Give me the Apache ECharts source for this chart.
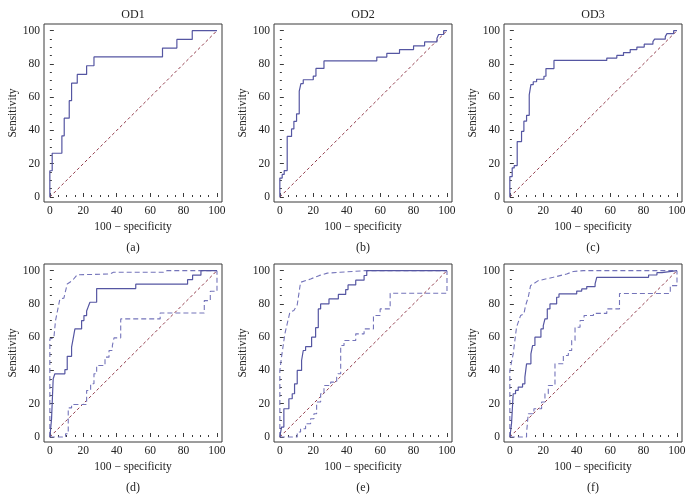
<!DOCTYPE html>
<html>
<head>
<meta charset="utf-8">
<script src="https://cdn.jsdelivr.net/npm/echarts@6/dist/echarts.min.js"></script>
<style>html,body{margin:0;padding:0;background:#fff}#c{width:691px;height:500px}</style>
</head>
<body>
<div id="c"></div>
<script>
// ---------- data ----------
const panelTitles = ['OD1', 'OD2', 'OD3', '', '', ''];
const panelLetters = ['(a)', '(b)', '(c)', '(d)', '(e)', '(f)'];
const xAxisTitle = '100 \u2212 specificity';
const yAxisTitle = 'Sensitivity';
const majorTicks = [0, 20, 40, 60, 80, 100];
const minorTicks = [5, 10, 15, 25, 30, 35, 45, 50, 55, 65, 70, 75, 85, 90, 95];
const diagonal = [[0, 0], [100, 100]];

// ROC curves (100-specificity, sensitivity) as step corner points
const rocA = [[0,0],[0,15.8],[1.4,26.3],[7.2,36.8],[8.6,47.4],[11.6,57.9],[13,68.4],[16.4,73.7],[22,78.9],[26.4,84.2],[67.4,89.5],[76,94.7],[85.2,100],[100,100]];
const rocB = [[0,0],[0,11.4],[1.4,13.6],[2.6,15.9],[4.4,36.4],[7,40.9],[8.4,45.5],[10,50],[11.6,63.6],[12.6,68.2],[14,70.5],[20,72.7],[21.6,77.3],[26.4,81.8],[58,84.1],[64,86.4],[71.6,88.6],[80,90.9],[86.6,93.2],[94,95.5],[95,97.7],[98,100],[100,100]];
const rocC = [[0,0],[0,12.3],[1.4,17.5],[2.6,18.9],[4.4,33.3],[7,39.5],[8.4,45.6],[10,49.1],[11.6,61.4],[12.6,67.5],[14,69.3],[16,70.8],[20.4,72.6],[21.6,77.2],[26.4,82.1],[58,83.5],[64,85.1],[68,86.8],[72,88.6],[76,90.1],[80.4,91.9],[85.6,93.4],[86.6,94.9],[93,96.4],[94,98.2],[98,100],[100,100]];
const rocD = [[0,0],[1,0],[1,10.5],[2,35],[3,38],[9,40.5],[10.4,48.5],[13,54],[14,59.5],[15,65],[19,70],[20.4,73],[22,75.7],[23,78.4],[24,81],[28,89.2],[51.4,91.9],[82.4,94.6],[85.4,97.3],[90.4,100],[100,100]];
const upperD = [[0,0],[0,59],[2.4,59.5],[3.4,70],[6,83],[8.4,83.5],[10.4,92],[13.4,94],[16.4,97.5],[36,98],[38,99],[68,99],[70,100],[100,100]];
const lowerD = [[0,0],[9.4,2],[11,17.5],[13,19.5],[22,28],[24.4,32],[26.4,38],[28,43],[33,48],[35.4,52],[37.4,55],[38.4,59.6],[42.4,71],[66,74.5],[92.4,82],[96,87.6],[100,100]];
const rocE = [[0,0],[1,6],[2.4,17],[5.4,23],[7.4,26],[8.8,32],[10.4,40],[13,46],[14,52],[15.4,54.3],[19,60],[21.4,65.7],[23,77],[24.4,80],[29.4,83],[35,85.7],[39.4,88.6],[40.8,91.4],[45.4,94.3],[50.4,97.1],[52,100],[100,100]];
const upperE = [[0,0],[0,40],[1,48],[3,62],[6,75],[8.4,76],[10.4,79.5],[12.4,93],[18.4,95],[23.4,97],[28.4,98.5],[36,99],[51,100],[100,100]];
const lowerE = [[0,0],[10.4,3],[12.4,5],[15.4,8],[18.4,11],[20.4,14],[22,21],[24.4,26],[26.4,31],[30.4,33],[34,36],[34.8,38],[36.4,55],[38.4,58],[45.4,62],[50.4,65],[56,73],[60,77],[66,86.4],[100,86.4],[100,100]];
const rocF = [[0,0],[1,8],[2,26],[3.4,28],[5,30],[7.6,32],[9,36],[10,44],[12.6,50],[13.6,55],[15,60],[18.6,65],[20,67],[21,71],[22.4,77],[24,80],[28,84],[29.4,86],[40,87.7],[43,89],[46,90.4],[51,92],[52,96],[83,97.4],[88,98.8],[91,100],[100,100]];
const upperF = [[0,0],[0,40],[2,50],[4,66],[6.4,73],[8.4,74],[9.4,79],[11,84],[12.4,91],[17,94],[26,96],[34,98],[38,99.5],[44,100],[100,100]];
const lowerF = [[0,0],[10,2.4],[11,14],[14.4,17],[19,21],[21,26],[23,31],[27,44],[32,49],[35,52],[37,58],[39,66],[42,70],[44.4,73],[50,74.3],[58,77],[65.6,86.3],[92,86.3],[96,91],[100,95],[100,100]];

const rocCurves = [rocA, rocB, rocC, rocD, rocE, rocF];
const upperCurves = [null, null, null, upperD, upperE, upperF];
const lowerCurves = [null, null, null, lowerD, lowerE, lowerF];

// ---------- layout ----------
const gridLefts = [44, 274, 504];
const gridTops = [24, 264];
const gw = 178, gh = 178;
const FONT = '"Liberation Serif", "DejaVu Serif", serif';
const frameColor = '#3a3a3a';
const rocColor = '#5556a2';
const ciColor = '#7474ba';
const diagColor = '#923c4c';
const STEP = 'end';

const grids = [], xAxes = [], yAxes = [], series = [], graphics = [];
for (let i = 0; i < 6; i++) {
  const col = i % 3, row = Math.floor(i / 3);
  grids.push({left: gridLefts[col], top: gridTops[row], width: gw, height: gh,
    show: true, borderColor: frameColor, borderWidth: 1, containLabel: false});
}
for (let i = 0; i < 6; i++) {
  xAxes.push({type: 'value', gridIndex: i, min: -3.5, max: 103, position: 'bottom',
    name: xAxisTitle, nameLocation: 'middle', nameGap: 19,
    nameTextStyle: {fontFamily: FONT, fontSize: 11.5, color: '#222'},
    axisLine: {show: false}, splitLine: {show: false},
    axisTick: {inside: true, length: 4, lineStyle: {color: frameColor}, customValues: majorTicks},
    axisLabel: {customValues: majorTicks, margin: 3, fontFamily: FONT, fontSize: 11.5, color: '#222'}});
  yAxes.push({type: 'value', gridIndex: i, min: -3, max: 104, position: 'left',
    name: yAxisTitle, nameLocation: 'middle', nameGap: 25, nameRotate: 90,
    nameTextStyle: {fontFamily: FONT, fontSize: 11.5, color: '#222'},
    axisLine: {show: false}, splitLine: {show: false},
    axisTick: {inside: true, length: 4, lineStyle: {color: frameColor}, customValues: majorTicks},
    axisLabel: {customValues: majorTicks, margin: 4, fontFamily: FONT, fontSize: 11.5, color: '#222'}});
}
for (let i = 0; i < 6; i++) {
  xAxes.push({type: 'value', gridIndex: i, min: -3.5, max: 103, position: 'bottom', offset: 0,
    axisLine: {show: false}, splitLine: {show: false}, axisLabel: {show: false},
    axisTick: {inside: true, length: 2, lineStyle: {color: frameColor}, customValues: minorTicks}});
  yAxes.push({type: 'value', gridIndex: i, min: -3, max: 104, position: 'left', offset: 0,
    axisLine: {show: false}, splitLine: {show: false}, axisLabel: {show: false},
    axisTick: {inside: true, length: 2, lineStyle: {color: frameColor}, customValues: minorTicks}});
}
for (let i = 0; i < 6; i++) {
  series.push({type: 'line', xAxisIndex: i, yAxisIndex: i, data: diagonal, showSymbol: false,
    silent: true, lineStyle: {color: diagColor, width: 1, type: [3, 2.5]}, z: 2});
  if (lowerCurves[i]) {
    series.push({type: 'line', xAxisIndex: i, yAxisIndex: i, data: lowerCurves[i], step: STEP,
      showSymbol: false, silent: true, lineStyle: {color: ciColor, width: 1.1, type: [5, 3]}, z: 3});
  }
  if (upperCurves[i]) {
    series.push({type: 'line', xAxisIndex: i, yAxisIndex: i, data: upperCurves[i],
      showSymbol: false, silent: true, lineStyle: {color: ciColor, width: 1.1, type: [5, 3]}, z: 3});
  }
  series.push({type: 'line', xAxisIndex: i, yAxisIndex: i, data: rocCurves[i], step: STEP,
    showSymbol: false, silent: true, lineStyle: {color: rocColor, width: 1.2}, z: 4});
}
for (let i = 0; i < 6; i++) {
  const col = i % 3, row = Math.floor(i / 3);
  const cx = gridLefts[col] + gw / 2;
  if (panelTitles[i]) {
    graphics.push({type: 'text', x: cx, y: 15, style: {text: panelTitles[i], fontFamily: FONT,
      fontSize: 12, fill: '#222', textAlign: 'center', textVerticalAlign: 'middle'}});
  }
  graphics.push({type: 'text', x: cx, y: gridTops[row] + gh + 46, style: {text: panelLetters[i], fontFamily: FONT,
    fontSize: 12, fill: '#222', textAlign: 'center', textVerticalAlign: 'middle'}});
}

const chart = echarts.init(document.getElementById('c'), null, {renderer: 'canvas'});
chart.setOption({
  animation: false,
  backgroundColor: '#fff',
  grid: grids, xAxis: xAxes, yAxis: yAxes, series: series, graphic: graphics
});
</script>
</body>
</html>
